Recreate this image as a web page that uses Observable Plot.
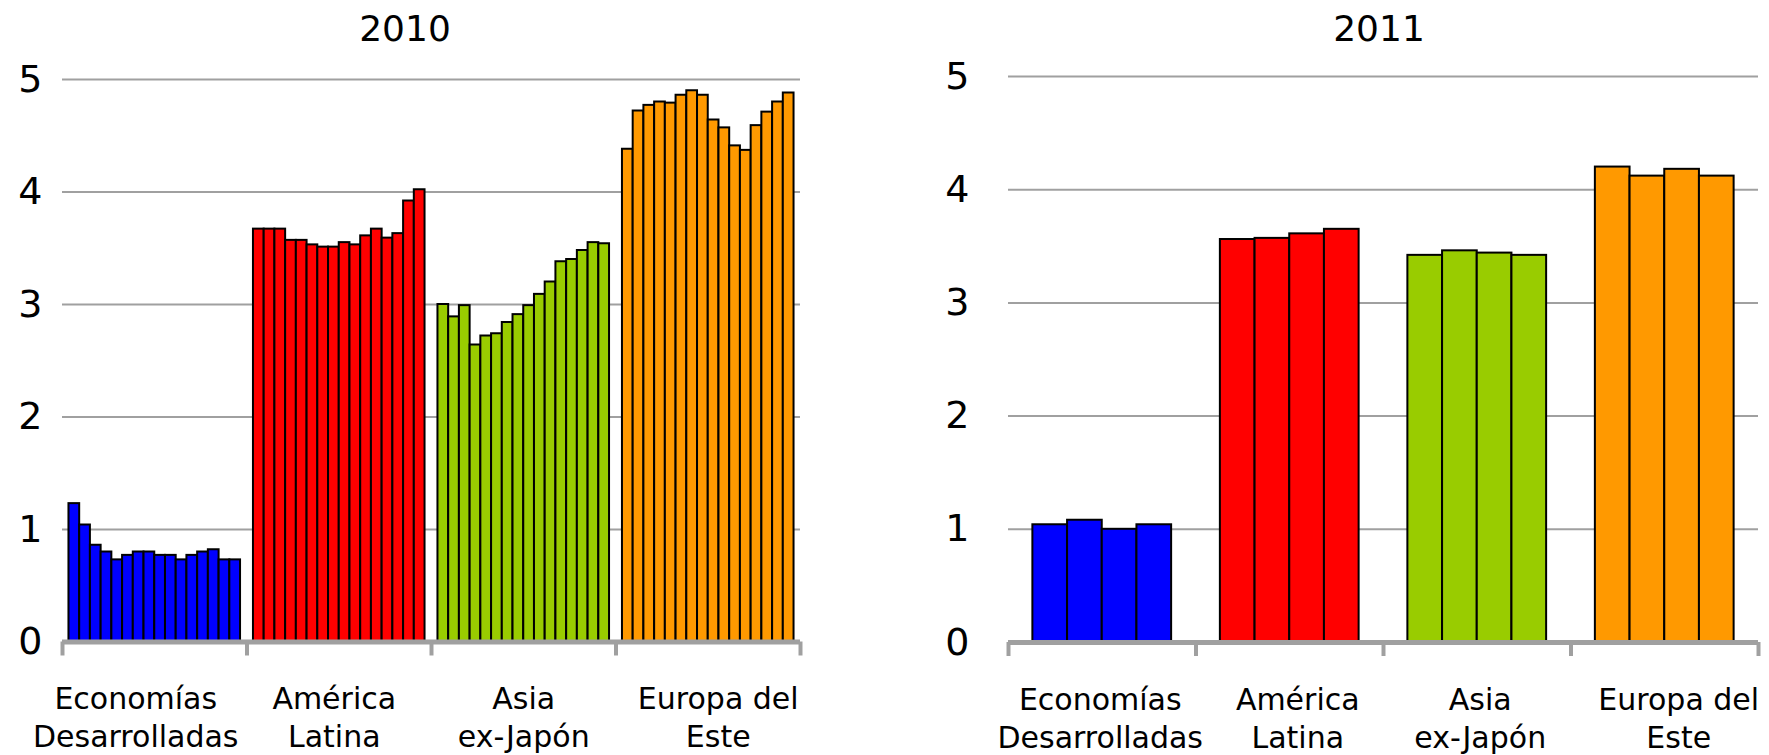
<!DOCTYPE html>
<html>
<head>
<meta charset="utf-8">
<script src="https://cdn.jsdelivr.net/npm/d3@7"></script>
<script src="https://cdn.jsdelivr.net/npm/@observablehq/plot@0.6"></script>
<style>
  body { margin: 0; background: #fff; }
  #chart { position: relative; width: 1769px; height: 755px; font-family: "DejaVu Sans", sans-serif; color: #000; }
  .panel { position: absolute; top: 0; }
  .panel svg { overflow: visible; }
  .title { position: absolute; top: 11px; width: 400px; text-align: center; font-size: 36px; line-height: 36px; }
</style>
</head>
<body>
<div id="chart"></div>
<script>
// Regions (x-axis categories) and their colours
const regions = ["Economías\nDesarrolladas", "América\nLatina", "Asia\nex-Japón", "Europa del\nEste"];
const regionColors = ["#0000ff", "#ff0000", "#99cc00", "#ff9900"];
const yTicks = [0, 1, 2, 3, 4, 5];

// 2010: sixteen monthly values per region
const desarrolladas2010 = [1.23, 1.04, 0.86, 0.80, 0.73, 0.77, 0.80, 0.80, 0.77, 0.77, 0.73, 0.77, 0.80, 0.82, 0.73, 0.73];
const latina2010 = [3.67, 3.67, 3.67, 3.57, 3.57, 3.53, 3.51, 3.51, 3.55, 3.53, 3.61, 3.67, 3.59, 3.63, 3.92, 4.02];
const asia2010 = [3.00, 2.89, 2.99, 2.64, 2.72, 2.74, 2.84, 2.91, 2.99, 3.09, 3.20, 3.38, 3.40, 3.48, 3.55, 3.54];
const europa2010 = [4.38, 4.72, 4.77, 4.80, 4.79, 4.86, 4.90, 4.86, 4.64, 4.57, 4.41, 4.37, 4.59, 4.71, 4.80, 4.88];

// 2011: four values per region
const desarrolladas2011 = [1.04, 1.08, 1.00, 1.04];
const latina2011 = [3.56, 3.57, 3.61, 3.65];
const asia2011 = [3.42, 3.46, 3.44, 3.42];
const europa2011 = [4.20, 4.12, 4.18, 4.12];

// One row per bar: region and its slot inside the region's band
function toBars(series, inset) {
  return series.flatMap((values, g) => {
    const w = (1 - 2 * inset) / values.length;
    return values.map((value, i) => ({
      region: regions[g],
      x1: g + inset + i * w,
      x2: g + inset + (i + 1) * w,
      value
    }));
  });
}

function panel(series, opts) {
  const bars = toBars(series, opts.inset);
  // Category labels under each region, each with its own horizontal nudge
  const labels = regions.map((r, i) => Plot.text([r], {
    x: () => i + 0.5,
    text: d => d,
    dx: opts.labelShift[i],
    frameAnchor: "bottom",
    lineAnchor: "top",
    dy: 40,
    fontSize: 30,
    lineHeight: 1.27,
    fill: "#000"
  }));
  return Plot.plot({
    width: opts.width,
    height: 755,
    marginLeft: opts.marginLeft,
    marginRight: opts.marginRight,
    marginTop: opts.marginTop,
    marginBottom: opts.marginBottom,
    x: {domain: [0, regions.length], axis: null},
    y: {domain: [0, 5], axis: null},
    color: {domain: regions, range: regionColors},
    style: {fontFamily: "DejaVu Sans, sans-serif", color: "#000", background: "transparent", overflow: "visible"},
    marks: [
      Plot.gridY([1, 2, 3, 4, 5], {stroke: "#a0a0a0", strokeOpacity: 1, strokeWidth: 2}),
      Plot.axisY(yTicks, {tickSize: 0, tickPadding: opts.tickPadding, tickFormat: d3.format("d"), fontSize: 38, fill: "#000", label: null}),
      Plot.rectY(bars, {x1: "x1", x2: "x2", y: "value", fill: "region", stroke: "#000", strokeWidth: 2}),
      Plot.ruleY([0], {stroke: "#a0a0a0", strokeWidth: 5}),
      Plot.axisX(d3.range(regions.length + 1), {tickSize: 14, tickFormat: () => "", stroke: "#a0a0a0", strokeWidth: 4, label: null}),
      ...labels
    ]
  });
}

const chart = document.getElementById("chart");

function addPanel(left, titleText, titleCenter, series, opts) {
  const wrap = document.createElement("div");
  wrap.className = "panel";
  wrap.style.left = left + "px";
  wrap.appendChild(panel(series, opts));
  chart.appendChild(wrap);
  const t = document.createElement("div");
  t.className = "title";
  t.textContent = titleText;
  t.style.left = (titleCenter - 200) + "px";
  chart.appendChild(t);
}

addPanel(0, "2010", 405, [desarrolladas2010, latina2010, asia2010, europa2010], {
  width: 810, marginLeft: 62, marginRight: 10, marginTop: 79, marginBottom: 113.5,
  inset: 0.035, tickPadding: 20, labelShift: [-19, -5, 0, 10]
});

addPanel(900, "2011", 1379, [desarrolladas2011, latina2011, asia2011, europa2011], {
  width: 869, marginLeft: 108, marginRight: 11, marginTop: 76, marginBottom: 113,
  inset: 0.13, tickPadding: 39, labelShift: [-2, 8, 3, 14]
});
</script>
</body>
</html>
